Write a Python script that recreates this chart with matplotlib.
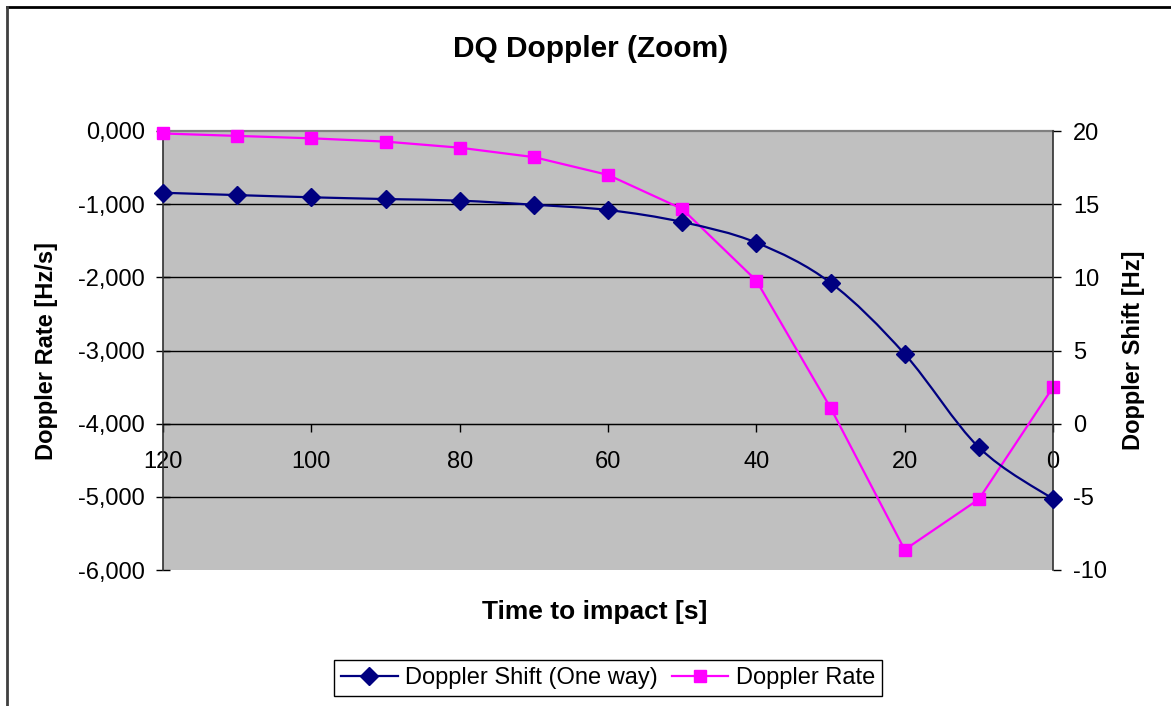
import numpy as np
import matplotlib
matplotlib.use("Agg")
import matplotlib.pyplot as plt
from matplotlib.path import Path
from matplotlib.patches import PathPatch
from matplotlib.lines import Line2D
from matplotlib.ticker import FuncFormatter

plt.rcParams['font.family'] = ['Liberation Sans', 'DejaVu Sans']
plt.rcParams['axes.unicode_minus'] = False

# time to impact [s]
time_s = [120, 110, 100, 90, 80, 70, 60, 50, 40, 30, 20, 10, 0]
# Doppler shift (one way) [Hz], right axis
doppler_shift = [15.78, 15.62, 15.47, 15.35, 15.24, 14.96, 14.60, 13.78,
                 12.37, 9.63, 4.76, -1.62, -5.15]
# Doppler rate [Hz/s], left axis
doppler_rate = [-0.034, -0.067, -0.100, -0.145, -0.228, -0.357, -0.600,
                -1.065, -2.044, -3.782, -5.723, -5.033, -3.502]

x_ticks = [120, 100, 80, 60, 40, 20, 0]
rate_ticks = [-6, -5, -4, -3, -2, -1, 0]
shift_ticks = [-10, -5, 0, 5, 10, 15, 20]

navy = '#000080'
pink = '#FF00FF'


def smooth_path(xs, ys):
    # Excel-like smoothed line: cubic bezier through every point
    pts = np.column_stack([xs, ys]).astype(float)
    n = len(pts)
    verts = [pts[0]]
    codes = [Path.MOVETO]
    for i in range(n - 1):
        p0 = pts[max(i - 1, 0)]
        p1 = pts[i]
        p2 = pts[i + 1]
        p3 = pts[min(i + 2, n - 1)]
        c1 = p1 + (p2 - p0) / 6.0
        c2 = p2 - (p3 - p1) / 6.0
        verts += [c1, c2, p2]
        codes += [Path.CURVE4] * 3
    return Path(verts, codes)


fig = plt.figure(figsize=(11.71, 7.06), dpi=100)
ax = fig.add_axes([163 / 1171, 1 - 570 / 706, 890 / 1171, 439 / 706])
ax.set_facecolor('#C0C0C0')

# Doppler rate on the primary axis
ax.plot(time_s, doppler_rate, color=pink, lw=1.6, marker='s', ms=8,
        mec=pink, mfc=pink, zorder=3, clip_on=False)
ax.set_xlim(120, 0)
ax.set_ylim(-6, 0)
ax.set_yticks(rate_ticks)
ax.yaxis.set_major_formatter(FuncFormatter(lambda v, p: f"{v:.3f}".replace('.', ',')))
ax.set_xticks(x_ticks)
ax.grid(axis='y', color='black', lw=1)
ax.set_axisbelow(True)
gl = ax.get_ygridlines()
gl[0].set_visible(False)
gl[-1].set_visible(False)

ax.spines['bottom'].set_position(('data', -4))
ax.spines['bottom'].set_color('black')
ax.spines['right'].set_visible(False)
ax.spines['top'].set_color('#808080')
ax.spines['top'].set_linewidth(1.6)
ax.spines['left'].set_color('#303030')
ax.spines['left'].set_linewidth(1.2)
ax.tick_params(axis='y', direction='inout', length=10.5, width=1, pad=7.6,
               labelsize=17, colors='black')
ax.tick_params(axis='x', direction='out', length=5.8, width=1, pad=14,
               labelsize=17)

ax.set_ylabel('Doppler Rate [Hz/s]', fontsize=17, fontweight='bold')
ax.yaxis.set_label_coords(-0.118, 0.5)
ax.set_xlabel('Time to impact [s]', fontsize=19, fontweight='bold')
ax.xaxis.set_label_coords(0.485, -0.068)

# Doppler shift on the secondary axis, smoothed line
ax2 = ax.twinx()
ax2.set_ylim(-10, 20)
ax2.set_yticks(shift_ticks)
ax2.add_patch(PathPatch(smooth_path(time_s, doppler_shift), fill=False,
                        edgecolor=navy, lw=1.6, zorder=3))
ax2.plot(time_s, doppler_shift, ls='none', marker='D', ms=9, color=navy,
         zorder=4, clip_on=False)
for s in ['top', 'left', 'bottom']:
    ax2.spines[s].set_visible(False)
ax2.spines['right'].set_color('#303030')
ax2.spines['right'].set_linewidth(1.2)
ax2.tick_params(axis='y', direction='out', length=5.8, width=1, pad=8.6,
                labelsize=17)
ax2.set_ylabel('Doppler Shift [Hz]', fontsize=17, fontweight='bold')
ax2.yaxis.set_label_coords(1.0775, 0.5)

fig.text(591 / 1171, 1 - 49 / 706, 'DQ Doppler (Zoom)', ha='center', va='center',
         fontsize=21.5, fontweight='bold')

handles = [
    Line2D([], [], color=navy, lw=1.6, marker='D', ms=9),
    Line2D([], [], color=pink, lw=1.6, marker='s', ms=8),
]
leg = fig.legend(handles, ['Doppler Shift (One way)', 'Doppler Rate'],
                 loc='center', bbox_to_anchor=(608 / 1171, 1 - 678 / 706),
                 ncol=2, fontsize=17, frameon=True, fancybox=False,
                 edgecolor='black', framealpha=1, handlelength=2.4,
                 handletextpad=0.3, columnspacing=0.6, borderpad=0.3,
                 borderaxespad=0)
leg.get_frame().set_linewidth(1)

# chart border
fig.add_artist(Line2D([7 / 1171, 1], [1 - 7 / 706] * 2, color='black', lw=2,
                      transform=fig.transFigure))
fig.add_artist(Line2D([7 / 1171] * 2, [0, 1 - 7 / 706], color='#404040', lw=2,
                      transform=fig.transFigure))

fig.savefig('out.png', dpi=100)
